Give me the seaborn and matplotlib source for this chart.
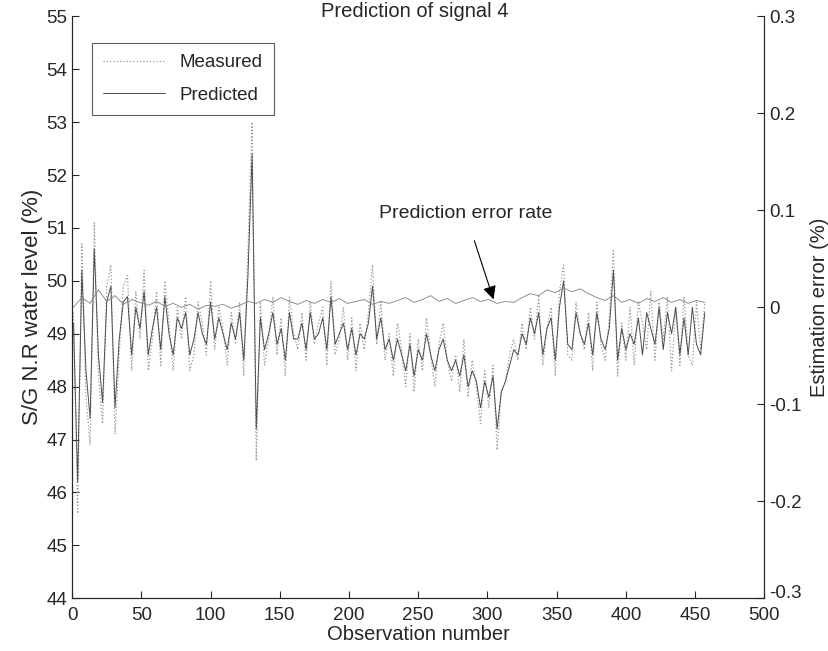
import numpy as np
import pandas as pd
import seaborn as sns
import matplotlib.pyplot as plt
from matplotlib.transforms import ScaledTranslation

# observation numbers (every 3rd sample for the level signals, every 6th for the error)
obs = np.arange(1, 458, 3)
obs_err = np.arange(1, 458, 6)

measured = [
    49.4, 45.6, 50.7, 47.8, 46.9, 51.1, 48.2, 47.3, 49.9, 50.3, 47.1, 48.6, 49.9, 50.1, 48.3, 49.8, 48.9,
    50.2, 48.3, 48.9, 49.8, 48.4, 50.0, 49.2, 48.3, 49.5, 48.9, 49.7, 48.3, 48.6, 49.6, 49.2, 48.6, 50.0,
    48.7, 49.5, 49.1, 48.4, 49.4, 48.8, 49.6, 48.2, 50.6,
    53.0, 46.6,
    49.6, 48.4, 48.9, 49.7, 48.6, 49.3, 48.2, 49.7, 49.0, 48.7, 49.4, 48.5, 49.6, 48.8, 49.2, 49.5,
    48.4, 50.0, 48.6, 48.9, 49.5, 48.5, 49.3, 48.3, 49.2, 48.7, 49.4, 50.3, 48.8, 49.6, 48.5, 49.0,
    48.2, 49.2, 48.7, 48.0, 49.0, 47.9, 48.9, 48.3, 49.3, 48.6, 48.0, 48.8, 49.2, 48.5, 48.1, 48.6, 47.9,
    48.9, 47.8, 48.5, 48.0, 47.3, 48.3, 47.6, 48.4, 46.8, 47.9, 48.1, 48.6, 48.9, 48.5, 49.2, 48.7, 49.5,
    48.9, 49.7, 48.4, 49.1, 49.5, 48.2, 49.8, 50.3, 48.6, 48.5, 49.6, 49.0, 48.7, 49.4, 48.3, 49.6,
    48.8, 48.5, 49.3, 50.6, 48.2, 49.2, 48.5, 49.5, 48.4, 49.6, 49.2, 48.7, 49.8, 48.5, 49.6, 48.9,
    49.7, 48.3, 49.5, 48.4, 49.7, 48.6, 48.4, 49.6, 48.7, 49.6,
][:153]

predicted = [
    49.2, 46.2, 50.2, 48.3, 47.4, 50.6, 48.6, 47.7, 49.6, 49.9, 47.6, 48.9, 49.6, 49.7, 48.6, 49.5, 49.1,
    49.8, 48.6, 49.1, 49.5, 48.7, 49.7, 49.0, 48.6, 49.3, 49.1, 49.4, 48.6, 48.9, 49.4, 49.0, 48.8, 49.6,
    48.9, 49.3, 49.0, 48.7, 49.2, 48.9, 49.4, 48.5, 50.1,
    52.4, 47.2,
    49.3, 48.7, 49.0, 49.4, 48.8, 49.1, 48.5, 49.4, 48.9, 48.9, 49.2, 48.7, 49.4, 48.9, 49.0, 49.3,
    48.7, 49.7, 48.8, 49.0, 49.2, 48.7, 49.1, 48.6, 49.0, 48.9, 49.2, 49.9, 48.9, 49.3, 48.7, 48.9,
    48.5, 48.9, 48.6, 48.3, 48.8, 48.2, 48.7, 48.5, 49.0, 48.6, 48.3, 48.7, 48.9, 48.5, 48.3, 48.5, 48.2,
    48.6, 48.0, 48.3, 48.1, 47.6, 48.1, 47.8, 48.2, 47.2, 47.9, 48.1, 48.4, 48.7, 48.6, 49.0, 48.8, 49.3,
    49.0, 49.4, 48.6, 49.1, 49.3, 48.5, 49.5, 50.0, 48.8, 48.7, 49.4, 49.0, 48.8, 49.2, 48.6, 49.4,
    48.9, 48.7, 49.1, 50.2, 48.5, 49.1, 48.7, 49.0, 48.8, 49.3, 48.6, 49.4, 49.1, 48.8, 49.5, 48.7,
    49.4, 49.0, 49.5, 48.6, 49.3, 48.6, 49.5, 48.8, 48.6, 49.4,
]

error_rate = [
    0.000, 0.010, 0.004, 0.018, 0.006, 0.012, 0.003, 0.008, 0.005,
    0.002, 0.006, 0.001, 0.004, 0.000, 0.003, -0.002, 0.002, 0.001, 0.003, -0.001, 0.002, 0.006,
    0.004, 0.008, 0.005, 0.010, 0.006, 0.003, 0.007, 0.004, 0.008, 0.005, 0.009, 0.004, 0.006, 0.008,
    0.003, 0.006, 0.004,
    0.007, 0.010, 0.005, 0.008, 0.012, 0.006, 0.009, 0.004, 0.007, 0.010, 0.006, 0.008, 0.004, 0.006,
    0.005, 0.010, 0.014,
    0.012, 0.018, 0.015, 0.020, 0.016, 0.019, 0.014, 0.010, 0.007, 0.012, 0.005, 0.008, 0.004, 0.009,
    0.006, 0.010, 0.005, 0.008, 0.004, 0.007, 0.005,
]

df = pd.DataFrame({'obs': obs, 'Measured': measured, 'Predicted': predicted})
df_err = pd.DataFrame({'obs': obs_err, 'error': error_rate})

sns.set_style('ticks')
plt.rcParams['font.family'] = ['Liberation Sans', 'DejaVu Sans']
plt.rcParams['xtick.direction'] = 'in'
plt.rcParams['ytick.direction'] = 'in'

fig = plt.figure(figsize=(8.29, 6.51), dpi=100)
ax = fig.add_axes([0.087, 0.081, 0.835, 0.894])

sns.lineplot(data=df, x='obs', y='Measured', ax=ax, color='0.6', lw=0.9,
             linestyle=':', label='Measured')
sns.lineplot(data=df, x='obs', y='Predicted', ax=ax, color='0.3', lw=0.7,
             label='Predicted')

ax.set_xlim(0, 500)
ax.set_ylim(44, 55)
ax.set_xticks(range(0, 501, 50))
ax.set_yticks(range(44, 56))
ax.tick_params(labelsize=13.5, length=5, width=0.8)
ax.tick_params(axis='x', pad=6)
ax.set_xlabel('Observation number', fontsize=14.5, labelpad=1)
ax.set_ylabel('S/G N.R water level (%)', fontsize=16, labelpad=2)
ax.spines['top'].set_visible(False)

ax2 = ax.twinx()
sns.lineplot(data=df_err, x='obs', y='error', ax=ax2, color='0.5', lw=0.6)
ax2.set_ylim(-0.3, 0.3)
ax2.set_yticks([-0.3, -0.2, -0.1, 0, 0.1, 0.2, 0.3])
ax2.set_yticklabels(['-0.3', '-0.2', '-0.1', '0', '0.1', '0.2', '0.3'])
ax2.tick_params(labelsize=13.5, length=5, width=0.8, direction='in')
ax2.set_ylabel('Estimation error (%)', fontsize=14.5, labelpad=6)
ax2.spines['top'].set_visible(False)

# nudge the bottom right label up so it clears the "500" tick label
low = ax2.get_yticklabels()[0]
low.set_transform(low.get_transform() + ScaledTranslation(0, 5 / 72, fig.dpi_scale_trans))

leg = ax.legend(loc='upper left', bbox_to_anchor=(0.0145, 0.97), fontsize=13.5,
                frameon=True, fancybox=False, edgecolor='0.2', handlelength=3.3,
                borderpad=0.6, labelspacing=0.8)
leg.get_frame().set_linewidth(0.8)

ax.annotate('Prediction error rate', xy=(305, 49.6), xytext=(284, 51.28),
            fontsize=14, ha='center', va='center',
            arrowprops=dict(arrowstyle='-|>', color='black', lw=0.8,
                            mutation_scale=20, shrinkA=12))

fig.text(0.5, 0.982, 'Prediction of signal 4', ha='center', va='center', fontsize=14.5)

fig.savefig('out.png', dpi=100)
